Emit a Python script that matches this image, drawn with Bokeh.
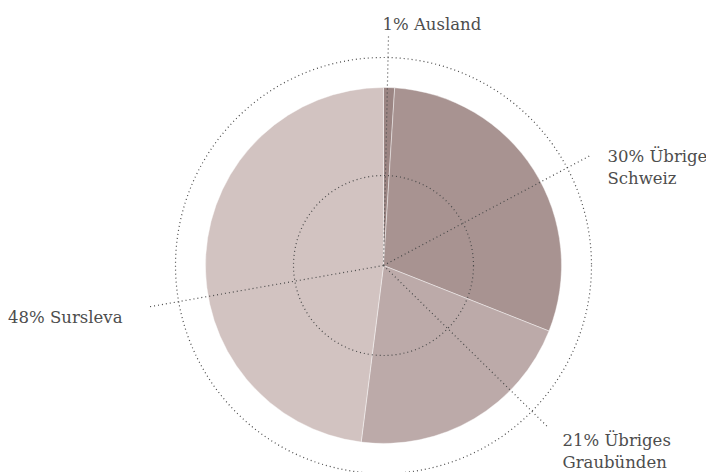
import numpy as np
from bokeh.plotting import figure
from bokeh.models import Range1d, ColumnDataSource
from bokeh.core.properties import value
from bokeh.embed import file_html
from bokeh.resources import INLINE

# Data (clockwise from top)
categories = ["Ausland", "Übrige Schweiz", "Übriges Graubünden", "Sursleva"]
shares = [1, 30, 21, 48]
colors = ["#9b8583", "#a89391", "#bcaaa9", "#d2c3c1"]
label_lines = [["1% Ausland"], ["30% Übrige", "Schweiz"], ["21% Übriges", "Graubünden"], ["48% Sursleva"]]

W, H = 706, 472
cx, cy = 383, 265  # center in figure pixels (from left, from top)

p = figure(width=W, height=H, output_backend="svg", toolbar_location=None,
           x_range=Range1d(-cx, W - cx), y_range=Range1d(-(H - cy), cy),
           min_border=0, outline_line_color=None)
p.axis.visible = False
p.grid.visible = False
p.background_fill_color = "white"
p.border_fill_color = "white"

R = 178
total = sum(shares)
cum = np.cumsum([0] + shares) / total
start = [np.pi / 2 - 2 * np.pi * c for c in cum[:-1]]
end = [np.pi / 2 - 2 * np.pi * c for c in cum[1:]]
src = ColumnDataSource(dict(start=start, end=end, color=colors, cat=categories))
p.wedge(x=0, y=0, radius=R, start_angle="start", end_angle="end", direction="clock",
        fill_color="color", line_color="white", line_width=0.6, line_alpha=0.7, source=src)

# dotted grid circles
dot = dict(line_color="#4a4a4a", line_dash="1 3", line_width=1.2)
p.circle(x=0, y=0, radius=208, fill_color=None, **dot)
p.circle(x=0, y=0, radius=90, fill_color=None, **dot)

# leader spokes (angle in degrees, length in px)
spoke_angles = [88.75, 28.0, -44.5, 190.0]
spoke_len = [230, 234, 231, 240]
for a, L in zip(spoke_angles, spoke_len):
    t = np.deg2rad(a)
    p.line([0, L * np.cos(t)], [0, L * np.sin(t)], **dot)

# labels
font = value("DejaVu Serif")
txt = dict(text_font=font, text_font_size="16.5px", text_color="#4d4d4d", text_baseline="alphabetic")
label_pos = [(-1, 241, "left"), (224, 109, "left"), (179, -175, "left"), (-261, -52, "right")]
for lines, (x, y, al) in zip(label_lines, label_pos):
    for i, s in enumerate(lines):
        p.text(x=[x], y=[y - 21.5 * i], text=[s], text_align=al, **txt)

open("out.html", "w").write(file_html(p, INLINE))
